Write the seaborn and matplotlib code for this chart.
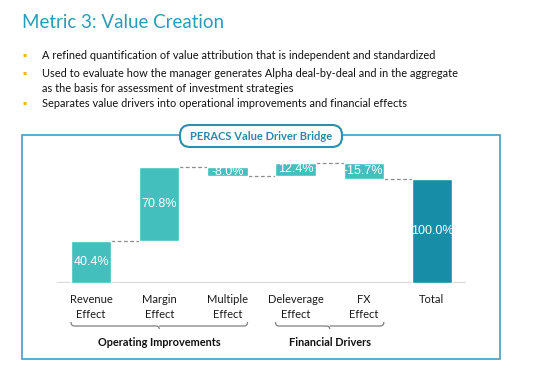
import matplotlib

matplotlib.use("Agg")
import matplotlib.pyplot as plt
import matplotlib.transforms as mtransforms
import numpy as np
import pandas as pd
import seaborn as sns
from matplotlib.patches import FancyBboxPatch, PathPatch, Rectangle
from matplotlib.path import Path

# chart data
drivers = ["Revenue\nEffect", "Margin\nEffect", "Multiple\nEffect", "Deleverage\nEffect", "FX\nEffect", "Total"]
effects = [40.4, 70.8, -8.0, 12.4, -15.7]
total = 100.0
groups = ["Operating Improvements", "Financial Drivers"]
group_spans = [(0, 2), (3, 4)]
bullets = [
    "A refined quantification of value attribution that is independent and standardized",
    "Used to evaluate how the manager generates Alpha deal-by-deal and in the aggregate\nas the basis for assessment of investment strategies",
    "Separates value drivers into operational improvements and financial effects",
]

LIGHT = "#43BFBD"
DARK = "#188DA7"
TEAL_TEXT = "#2A9BB8"
BOX = "#3FA0C0"
W = 0.59

sns.set_style("white")
plt.rcParams["font.family"] = ["Lato", "DejaVu Sans"]


def brace(x0, x1, y, tr):
    xm = (x0 + x1) / 2
    c = 0.05
    verts = [
        (x0, y - 4), (x0, y), (x0 + c, y),
        (xm - c, y), (xm, y), (xm, y + 3),
        (xm, y), (xm + c, y),
        (x1 - c, y), (x1, y), (x1, y - 4),
    ]
    codes = [
        Path.MOVETO, Path.CURVE3, Path.CURVE3,
        Path.LINETO, Path.CURVE3, Path.CURVE3,
        Path.MOVETO, Path.LINETO,
        Path.LINETO, Path.CURVE3, Path.CURVE3,
    ]
    return PathPatch(Path(verts, codes), transform=tr, fill=False, ec="#808080", lw=0.9)


def main() -> None:
    cum = np.cumsum(effects)
    prev = np.concatenate([[0.0], cum[:-1]])
    bottoms = list(np.minimum(prev, cum)) + [0.0]
    heights = list(np.abs(effects)) + [total]
    df = pd.DataFrame({"driver": drivers, "height": heights, "bottom": bottoms})

    fig = plt.figure(figsize=(5.5, 3.73), dpi=100)
    overlay = fig.add_axes([0, 0, 1, 1])
    overlay.set_xlim(0, 550)
    overlay.set_ylim(373, 0)
    overlay.axis("off")

    ax = fig.add_axes([57 / 550, 90 / 373, 409 / 550, 153 / 373])
    ax.patch.set_alpha(0)
    sns.barplot(
        data=df, x="driver", y="height", bottom=df["bottom"].values,
        color=LIGHT, saturation=1, width=W, errorbar=None, ax=ax, zorder=3,
    )
    ax.patches[-1].set_facecolor(DARK)
    ax.set_xlim(-0.5, 5.5)
    ax.set_ylim(0, 153 / 1.04)
    ax.axhline(0, color="#d9d9d9", lw=1.6, zorder=2)
    sns.despine(ax=ax, left=True, bottom=True)
    ax.set_yticks([])
    ax.set_xlabel("")
    ax.set_ylabel("")
    ax.tick_params(axis="x", length=0, pad=8, labelsize=8, labelcolor="#1a1a1a")
    for lab in ax.get_xticklabels():
        lab.set_linespacing(1.4)

    # connectors between bars
    for i, level in enumerate(cum):
        ax.plot([i + W / 2, i + 1 - W / 2], [level, level], ls=(0, (3, 2)),
                color="#8c8c8c", lw=0.9, zorder=2)

    # value labels
    labels = [f"{v:.1f}%" for v in effects] + [f"{total:.1f}%"]
    for i, (b, h, t) in enumerate(zip(bottoms, heights, labels)):
        ax.text(i, b + h / 2, t, ha="center", va="center", color="white",
                fontsize=9, family="Liberation Sans", zorder=4)

    # group braces and labels
    tr = mtransforms.blended_transform_factory(ax.transData, overlay.transData)
    for name, (a, b) in zip(groups, group_spans):
        overlay.add_patch(brace(a - W / 2, b + W / 2, 326, tr))
        overlay.text((a + b) / 2, 342, name, transform=tr, ha="center", va="center",
                     fontsize=7.9, fontweight="bold", color="#111111")

    # header text
    overlay.text(22, 22, "Metric 3: Value Creation", fontsize=13.5, color=TEAL_TEXT,
                 va="center", ha="left")
    for y, text in zip([55, 73, 103], bullets):
        overlay.text(25, y, "\u25aa", family="DejaVu Sans", fontsize=4.5, color="#F5B02E",
                     va="center", ha="center")
        overlay.text(42, y - 4.8, text, fontsize=7.9, color="#111111", va="top",
                     ha="left", linespacing=1.45)

    # frame and title pill
    overlay.add_patch(Rectangle((22, 135), 478, 224, fill=False, ec=BOX, lw=1.2))
    overlay.add_patch(FancyBboxPatch((180, 125), 162, 22,
                                     boxstyle="round,pad=0,rounding_size=10",
                                     fc="white", ec="#2B8FAE", lw=1.5, zorder=3))
    overlay.text(261, 136, "PERACS Value Driver Bridge", ha="center", va="center",
                 fontsize=8, fontweight="bold", color="#2A87A6", zorder=4)

    fig.savefig("out.png", dpi=100, facecolor="white")
    plt.close(fig)


if __name__ == "__main__":
    main()
